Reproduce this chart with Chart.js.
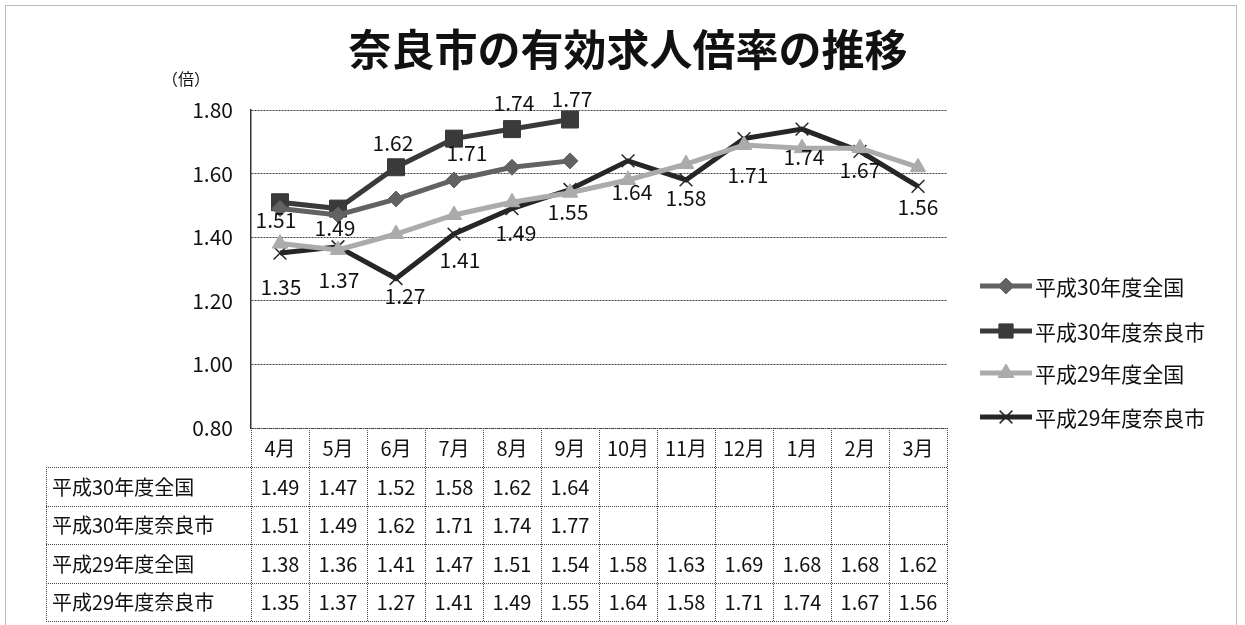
<!DOCTYPE html>
<html>
<head>
<meta charset="utf-8">
<script src="https://cdn.jsdelivr.net/npm/chart.js@4"></script>
<style>
  html, body { margin: 0; padding: 0; background: #fff; }
  #wrap { width: 1245px; height: 625px; }
</style>
</head>
<body>
<div id="wrap"><canvas id="myChart" width="1245" height="625"></canvas></div>
<script>
const months = ["4月", "5月", "6月", "7月", "8月", "9月", "10月", "11月", "12月", "1月", "2月", "3月"];
const seriesNames = ["平成30年度全国", "平成30年度奈良市", "平成29年度全国", "平成29年度奈良市"];
const h30Zenkoku = [1.49, 1.47, 1.52, 1.58, 1.62, 1.64, null, null, null, null, null, null];
const h30Nara = [1.51, 1.49, 1.62, 1.71, 1.74, 1.77, null, null, null, null, null, null];
const h29Zenkoku = [1.38, 1.36, 1.41, 1.47, 1.51, 1.54, 1.58, 1.63, 1.69, 1.68, 1.68, 1.62];
const h29Nara = [1.35, 1.37, 1.27, 1.41, 1.49, 1.55, 1.64, 1.58, 1.71, 1.74, 1.67, 1.56];
const yTicks = [0.8, 1.0, 1.2, 1.4, 1.6, 1.8];

const FONT = "'Noto Sans CJK JP', 'Noto Sans', sans-serif";

// label placement (dx, dy in px from the point) for the two 奈良市 series
const labelOffsets = {
	1: [[-4, 18], [-3, 19], [-3, -24], [13, 14], [2, -26], [2, -21]],
	3: [[1, 34], [1, 33], [9, 17], [6, 26], [4, 24], [-2, 23], [4, 31], [0, 18], [4, 36], [2, 28], [0, 19], [0, 21]],
};

const allSeries = [h30Zenkoku, h30Nara, h29Zenkoku, h29Nara];
const styles = [
	{ color: "#626262", point: "rectRot", radius: 8 },
	{ color: "#3a3a3a", point: "rect", radius: 12 },
	{ color: "#ababab", point: "triangle", radius: 9 },
	{ color: "#262626", point: "crossRot", radius: 9 },
];

const extras = {
	id: "extras",
	afterDraw(chart) {
		const ctx = chart.ctx;
		const area = chart.chartArea;
		const x = chart.scales.x;
		const colW = (area.right - area.left) / months.length;
		ctx.save();

		// outer frame
		ctx.strokeStyle = "#777";
		ctx.lineWidth = 1;
		ctx.setLineDash([1, 1]);
		ctx.strokeRect(5.5, 5.5, 1231, 620);

		// title
		ctx.setLineDash([]);
		ctx.fillStyle = "#111";
		ctx.textAlign = "center";
		ctx.textBaseline = "middle";
		ctx.font = "bold 43px " + FONT;
		ctx.fillText("奈良市の有効求人倍率の推移", 628, 50);

		ctx.font = "16px " + FONT;
		ctx.fillText("（倍）", 186, 79);

		// data labels
		ctx.font = "21px " + FONT;
		ctx.fillStyle = "#111";
		Object.keys(labelOffsets).forEach(di => {
			const meta = chart.getDatasetMeta(+di);
			const vals = allSeries[di];
			meta.data.forEach((pt, i) => {
				if (vals[i] == null) return;
				const off = labelOffsets[di][i];
				ctx.fillText(vals[i].toFixed(2), pt.x + off[0], pt.y + off[1]);
			});
		});

		// data table
		const headTop = area.bottom;
		const headH = 39;
		const rowH = 38.5;
		const tableLeft = 46;
		const tableBottom = headTop + headH + rowH * 4;
		ctx.strokeStyle = "#444";
		ctx.setLineDash([1, 1]);
		ctx.lineWidth = 1;
		ctx.beginPath();
		for (let i = 0; i <= months.length; i++) {
			const lx = Math.round(area.left + i * colW) + 0.5;
			ctx.moveTo(lx, headTop);
			ctx.lineTo(lx, tableBottom);
		}
		ctx.moveTo(tableLeft + 0.5, headTop + headH);
		ctx.lineTo(tableLeft + 0.5, tableBottom);
		ctx.moveTo(area.left, headTop + 0.5);
		ctx.lineTo(area.right, headTop + 0.5);
		for (let r = 0; r <= 4; r++) {
			const ly = Math.round(headTop + headH + r * rowH) + 0.5;
			ctx.moveTo(tableLeft, ly);
			ctx.lineTo(area.right, ly);
		}
		ctx.stroke();
		ctx.setLineDash([]);

		ctx.fillStyle = "#111";
		ctx.font = "20px " + FONT;
		ctx.textAlign = "center";
		months.forEach((m, i) => {
			ctx.fillText(m, x.getPixelForValue(i), headTop + headH / 2 + 1);
		});
		allSeries.forEach((vals, r) => {
			const cy = headTop + headH + r * rowH + rowH / 2 + 1;
			ctx.textAlign = "left";
			ctx.fillText(seriesNames[r], tableLeft + 6, cy);
			ctx.textAlign = "center";
			vals.forEach((v, i) => {
				if (v == null) return;
				ctx.fillText(v.toFixed(2), x.getPixelForValue(i), cy);
			});
		});

		// legend
		const lgX = 980;
		const lgY = [286, 331, 373, 417];
		ctx.font = "21px " + FONT;
		ctx.textAlign = "left";
		styles.forEach((s, i) => {
			const y = lgY[i];
			ctx.strokeStyle = s.color;
			ctx.lineWidth = 5;
			ctx.beginPath();
			ctx.moveTo(lgX, y);
			ctx.lineTo(lgX + 52, y);
			ctx.stroke();
			ctx.lineWidth = s.point === "crossRot" ? 1.5 : 1;
			ctx.fillStyle = s.color;
			const r = s.point === "rect" ? 10 : s.radius;
			Chart.helpers.drawPoint(ctx, { pointStyle: s.point, radius: r, borderWidth: 1 }, lgX + 26, y);
			if (s.point !== "crossRot") ctx.fill();
			ctx.fillStyle = "#111";
			ctx.fillText(seriesNames[i], lgX + 55, y + 1);
		});

		ctx.restore();
	},
};

const ctx = document.getElementById("myChart").getContext("2d");
new Chart(ctx, {
	type: "line",
	data: {
		labels: months,
		datasets: allSeries.map((vals, i) => ({
			label: seriesNames[i],
			data: vals,
			borderColor: styles[i].color,
			backgroundColor: styles[i].color,
			pointBorderColor: styles[i].color,
			borderWidth: 5,
			pointStyle: styles[i].point,
			pointRadius: styles[i].radius,
			pointBorderWidth: styles[i].point === "crossRot" ? 1.5 : 1,
			tension: 0,
			fill: false,
			spanGaps: false,
		})),
	},
	options: {
		responsive: false,
		animation: false,
		layout: { padding: { top: 110, right: 298, bottom: 197, left: 0 } },
		plugins: {
			legend: { display: false },
			title: { display: false },
			tooltip: { enabled: false },
		},
		scales: {
			x: {
				type: "category",
				offset: true,
				display: false,
			},
			y: {
				min: 0.8,
				max: 1.8,
				afterFit(scale) { scale.width = 251; },
				afterBuildTicks(scale) { scale.ticks = yTicks.map(v => ({ value: v })); },
				ticks: {
					padding: 18,
					color: "#111",
					font: { family: FONT, size: 21 },
					callback: v => v.toFixed(2),
				},
				grid: {
					drawTicks: false,
					color: "#444",
					lineWidth: 1,
				},
				border: { display: true, color: "#333", width: 1.5, dash: [2, 1] },
			},
		},
	},
	plugins: [extras],
});
</script>
</body>
</html>
